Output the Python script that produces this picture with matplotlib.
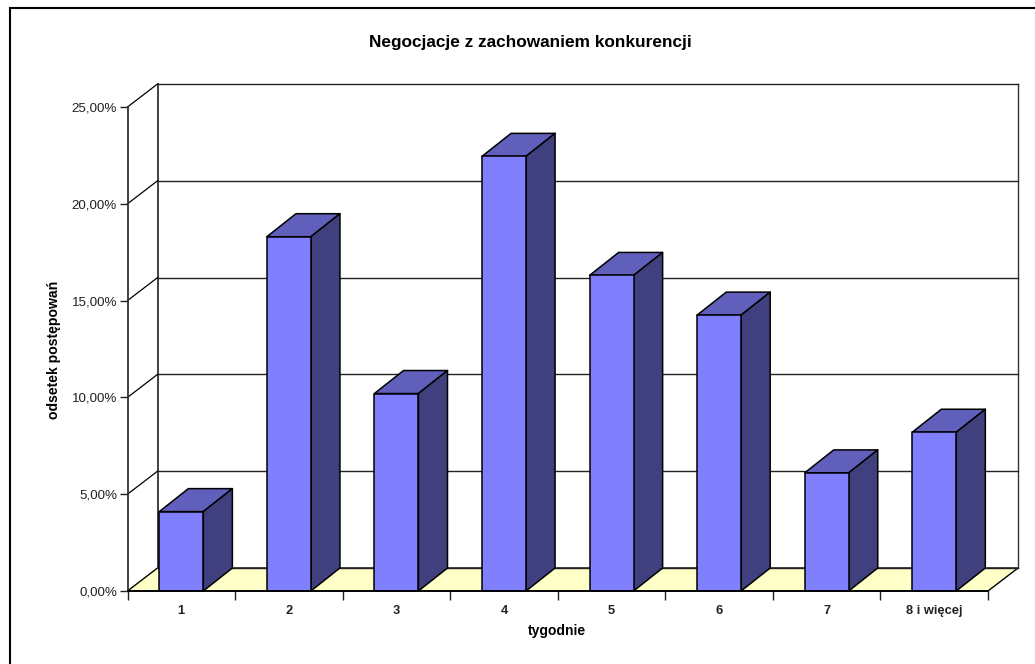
import matplotlib
matplotlib.use('Agg')
import matplotlib.pyplot as plt
from matplotlib.lines import Line2D
from matplotlib.patches import Polygon

plt.rcParams['font.family'] = ['Liberation Sans', 'DejaVu Sans']

categories = ['1', '2', '3', '4', '5', '6', '7', '8 i więcej']
values = [4.1, 18.3, 10.2, 22.45, 16.3, 14.25, 6.1, 8.2]
yticks = [0, 5, 10, 15, 20, 25]
ylabels = ['0,00%', '5,00%', '10,00%', '15,00%', '20,00%', '25,00%']

W, H = 1035, 664
fig = plt.figure(figsize=(W / 100, H / 100), dpi=100)
fig.patch.set_facecolor('white')

# front plane of the fake 3d box, everything else is an offset from it
x0, x1, y0, y25 = 127.5, 988, 591, 107
ax = fig.add_axes([x0 / W, 1 - y0 / H, (x1 - x0) / W, (y0 - y25) / H])
ax.set_xlim(0, 8)
ax.set_ylim(0, 25)
ax.patch.set_visible(False)
for s in ax.spines.values():
    s.set_visible(False)

dx = 30 / ((x1 - x0) / 8)
dy = 23 / ((y0 - y25) / 25)
bw = 44 / ((x1 - x0) / 8)
bar_dx = dx * 0.97
bar_dy = dy


def poly(pts, fc, ec='black', lw=1.1, z=3):
    ax.add_patch(Polygon(pts, closed=True, facecolor=fc, edgecolor=ec, linewidth=lw,
                         zorder=z, clip_on=False, joinstyle='round'))


# floor
poly([(0, 0), (8, 0), (8 + dx, dy), (dx, dy)], '#ffffc8', lw=1.0, z=1)

# back wall and gridlines
ax.plot([dx, dx], [dy, 25 + dy], color='#333333', lw=1.3, zorder=1.5, clip_on=False)
ax.plot([8 + dx, 8 + dx], [dy, 25 + dy], color='#333333', lw=1.0, zorder=1.5, clip_on=False)
for t in yticks:
    ax.plot([dx, 8 + dx], [t + dy, t + dy], color='#222222', lw=1.0, zorder=1.5, clip_on=False)
    if t > 0:
        ax.plot([0, dx], [t, t + dy], color='black', lw=0.9, zorder=1.5, clip_on=False)

# bars
for i, v in enumerate(values):
    l = i + 0.5 - bw / 2
    r = i + 0.5 + bw / 2
    poly([(l, v), (r, v), (r + bar_dx, v + bar_dy), (l + bar_dx, v + bar_dy)], '#6060bc')
    poly([(r, 0), (r + bar_dx, bar_dy), (r + bar_dx, v + bar_dy), (r, v)], '#40407f')
    poly([(l, 0), (r, 0), (r, v), (l, v)], '#8080ff')

# front axis lines
ax.plot([0, 0], [0, 25], color='#333333', lw=1.3, zorder=4, clip_on=False)
ax.plot([0, 8], [0, 0], color='black', lw=1.3, zorder=4, clip_on=False)

ax.set_xticks(range(9))
ax.set_xticklabels([])
ax.set_xticks([i + 0.5 for i in range(8)], categories, minor=True, fontsize=9.3, fontweight='bold',
              color='#222222')
ax.tick_params(axis='x', which='major', length=6.5, width=1, color='#222222', bottom=True)
ax.tick_params(axis='x', which='minor', length=0, pad=10)
ax.set_yticks(yticks, ylabels, fontsize=9.6, color='#222222')
ax.tick_params(axis='y', length=6, width=1, color='#222222', pad=1.5)

fig.text(530 / W, 1 - 43 / H, 'Negocjacje z zachowaniem konkurencji', fontsize=12.4,
         fontweight='bold', ha='center', va='center')
fig.text(557 / W, 1 - 631 / H, 'tygodnie', fontsize=10, fontweight='bold', ha='center', va='center')
fig.text(54 / W, 1 - 350 / H, 'odsetek postępowań', fontsize=10.1, fontweight='bold', rotation=90,
         ha='center', va='center')

# chart border, only the top and left edges are inside the picture
fig.add_artist(Line2D([9.5 / W, 9.5 / W, 1], [0, 1 - 8 / H, 1 - 8 / H], transform=fig.transFigure,
                      color='black', linewidth=1.5, solid_joinstyle='miter'))

fig.savefig('out.png', dpi=100)
